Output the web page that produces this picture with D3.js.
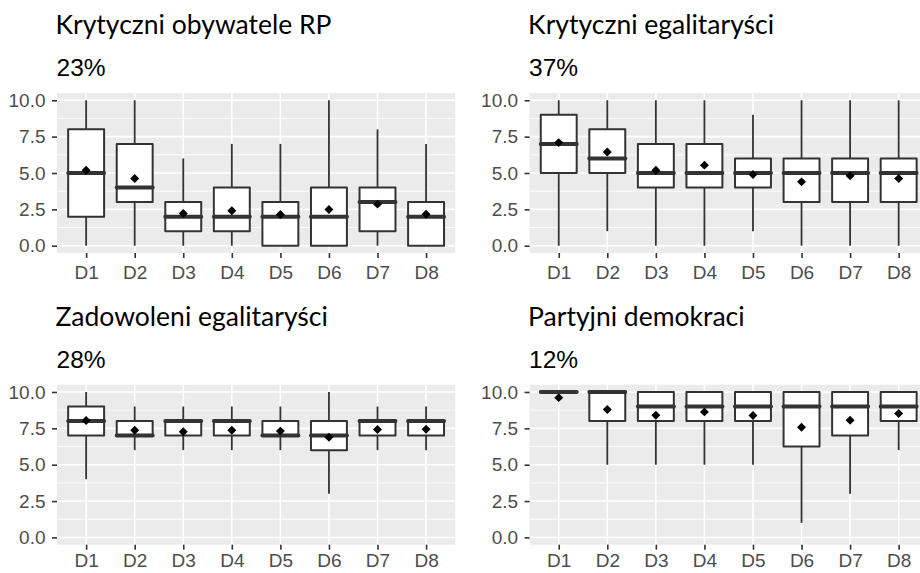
<!DOCTYPE html>
<html>
<head>
<meta charset="utf-8">
<script src="https://cdn.jsdelivr.net/npm/d3@7"></script>
<style>
  body { margin: 0; background: #fff; }
  svg { display: block; }
</style>
</head>
<body>
<div id="chart"></div>
<script>
const width = 920;
const height = 573;

const categories = ["D1", "D2", "D3", "D4", "D5", "D6", "D7", "D8"];
const panelTitles = ["Krytyczni obywatele RP", "Krytyczni egalitaryści", "Zadowoleni egalitaryści", "Partyjni demokraci"];
const panelShares = ["23%", "37%", "28%", "12%"];
const yTicks = [0, 2.5, 5, 7.5, 10];
const yMinorTicks = [1.25, 3.75, 6.25, 8.75];

// one row per panel, one value per category
const mins = [
    [0, 0, 0, 0, 0, 0, 0, 0],
    [0, 1, 0, 0, 1, 0, 0, 0],
    [4, 6, 6, 6, 6, 3, 6, 6],
    [10, 5, 5, 5, 5, 1, 3, 6]
];
const q1s = [
    [2, 3, 1, 1, 0, 0, 1, 0],
    [5, 5, 4, 4, 4, 3, 3, 3],
    [7, 7, 7, 7, 7, 6, 7, 7],
    [10, 8, 8, 8, 8, 6.25, 7, 8]
];
const medians = [
    [5, 4, 2, 2, 2, 2, 3, 2],
    [7, 6, 5, 5, 5, 5, 5, 5],
    [8, 7, 8, 8, 7, 7, 8, 8],
    [10, 10, 9, 9, 9, 9, 9, 9]
];
const q3s = [
    [8, 7, 3, 4, 3, 4, 4, 3],
    [9, 8, 7, 7, 6, 6, 6, 6],
    [9, 8, 8, 8, 8, 8, 8, 8],
    [10, 10, 10, 10, 10, 10, 10, 10]
];
const maxs = [
    [10, 10, 6, 7, 7, 10, 8, 7],
    [10, 10, 10, 10, 9, 10, 10, 10],
    [10, 9, 9, 9, 9, 10, 9, 9],
    [10, 10, 10, 10, 10, 10, 10, 10]
];
const means = [
    [5.19, 4.62, 2.22, 2.40, 2.15, 2.49, 2.86, 2.17],
    [7.09, 6.45, 5.19, 5.54, 4.90, 4.39, 4.81, 4.62],
    [8.04, 7.37, 7.26, 7.37, 7.31, 6.89, 7.42, 7.44],
    [9.61, 8.79, 8.40, 8.63, 8.38, 7.58, 8.06, 8.52]
];

const panelLeft = [57, 529.6];
const panelTop = [93, 384.7];
const panelW = 398.2;
const panelH = 160;

const svg = d3.select("#chart")
    .append("svg")
    .attr("width", width)
    .attr("height", height);

panelTitles.forEach(function (title, p) {
    const x0 = panelLeft[p % 2];
    const y0 = panelTop[Math.floor(p / 2)];
    const bottomRow = p >= 2;

    const x = d3.scalePoint()
        .domain(categories)
        .range([x0, x0 + panelW])
        .padding(0.6);

    const y = d3.scaleLinear()
        .domain([-0.5, 10.5])
        .range([y0 + panelH, y0]);

    const g = svg.append("g");

    // titles
    g.append("text")
        .attr("x", x0 - 1.5)
        .attr("y", y0 - 59)
        .style("font-family", "Lato, 'Open Sans', sans-serif")
        .style("font-size", "26.5px")
        .attr("fill", "#000")
        .text(title);

    g.append("text")
        .attr("x", x0 - 0.5)
        .attr("y", y0 - 17)
        .style("font-family", "'Liberation Sans', Arial, sans-serif")
        .style("font-size", "24.5px")
        .attr("fill", "#000")
        .text(panelShares[p]);

    // panel background
    g.append("rect")
        .attr("x", x0)
        .attr("y", y0)
        .attr("width", panelW)
        .attr("height", panelH)
        .attr("fill", "#EBEBEB");

    g.selectAll("line.minor")
        .data(yMinorTicks)
        .enter()
        .append("line")
        .attr("x1", x0)
        .attr("x2", x0 + panelW)
        .attr("y1", d => y(d))
        .attr("y2", d => y(d))
        .attr("stroke", "#fff")
        .attr("stroke-width", 0.8);

    g.selectAll("line.major")
        .data(yTicks)
        .enter()
        .append("line")
        .attr("x1", x0)
        .attr("x2", x0 + panelW)
        .attr("y1", d => y(d))
        .attr("y2", d => y(d))
        .attr("stroke", "#fff")
        .attr("stroke-width", 1.6);

    g.selectAll("line.vgrid")
        .data(categories)
        .enter()
        .append("line")
        .attr("x1", d => x(d))
        .attr("x2", d => x(d))
        .attr("y1", y0)
        .attr("y2", y0 + panelH)
        .attr("stroke", "#fff")
        .attr("stroke-width", 1.6);

    // axes
    const yAxis = g.append("g")
        .attr("transform", `translate(${x0},0)`)
        .call(d3.axisLeft(y)
            .tickValues(yTicks)
            .tickFormat(d3.format(".1f"))
            .tickSize(5)
            .tickSizeOuter(0)
            .tickPadding(6.5));

    // bottom row labels sit right at the page edge, keep them inside
    const xAxis = g.append("g")
        .attr("transform", `translate(0,${y0 + panelH})`)
        .call(d3.axisBottom(x)
            .tickSize(5)
            .tickSizeOuter(0)
            .tickPadding(bottomRow ? 4 : 8));

    [yAxis, xAxis].forEach(function (ax) {
        ax.select(".domain").remove();
        ax.selectAll(".tick line")
            .attr("stroke", "#333")
            .attr("stroke-width", 1.6);
        ax.selectAll(".tick text")
            .attr("fill", "#4D4D4D")
            .style("font-family", "'Liberation Sans', Arial, sans-serif")
            .style("font-size", "19px");
    });

    const boxW = x.step() * 0.74;
    const rows = categories.map(function (c, i) {
        return {
            cat: c,
            min: mins[p][i],
            q1: q1s[p][i],
            med: medians[p][i],
            q3: q3s[p][i],
            max: maxs[p][i],
            mean: means[p][i]
        };
    });

    // whiskers
    g.selectAll("line.whiskerLow")
        .data(rows)
        .enter()
        .append("line")
        .attr("x1", d => x(d.cat))
        .attr("x2", d => x(d.cat))
        .attr("y1", d => y(d.min))
        .attr("y2", d => y(d.q1))
        .attr("stroke", "#333")
        .attr("stroke-width", 1.8);

    g.selectAll("line.whiskerHigh")
        .data(rows)
        .enter()
        .append("line")
        .attr("x1", d => x(d.cat))
        .attr("x2", d => x(d.cat))
        .attr("y1", d => y(d.q3))
        .attr("y2", d => y(d.max))
        .attr("stroke", "#333")
        .attr("stroke-width", 1.8);

    // boxes
    g.selectAll("rect.box")
        .data(rows)
        .enter()
        .append("rect")
        .attr("x", d => x(d.cat) - boxW / 2)
        .attr("y", d => y(d.q3))
        .attr("width", boxW)
        .attr("height", d => y(d.q1) - y(d.q3))
        .attr("fill", "#fff")
        .attr("stroke", "#333")
        .attr("stroke-width", 2)
        .attr("stroke-linejoin", "round");

    g.selectAll("line.median")
        .data(rows)
        .enter()
        .append("line")
        .attr("x1", d => x(d.cat) - boxW / 2)
        .attr("x2", d => x(d.cat) + boxW / 2)
        .attr("y1", d => y(d.med))
        .attr("y2", d => y(d.med))
        .attr("stroke", "#333")
        .attr("stroke-width", 4)
        .attr("stroke-linecap", "round");

    // means as diamonds
    g.selectAll("path.mean")
        .data(rows)
        .enter()
        .append("path")
        .attr("d", d3.symbol(d3.symbolSquare, 40))
        .attr("transform", d => `translate(${x(d.cat)},${y(d.mean)}) rotate(45)`)
        .attr("fill", "#000");
});
</script>
</body>
</html>
